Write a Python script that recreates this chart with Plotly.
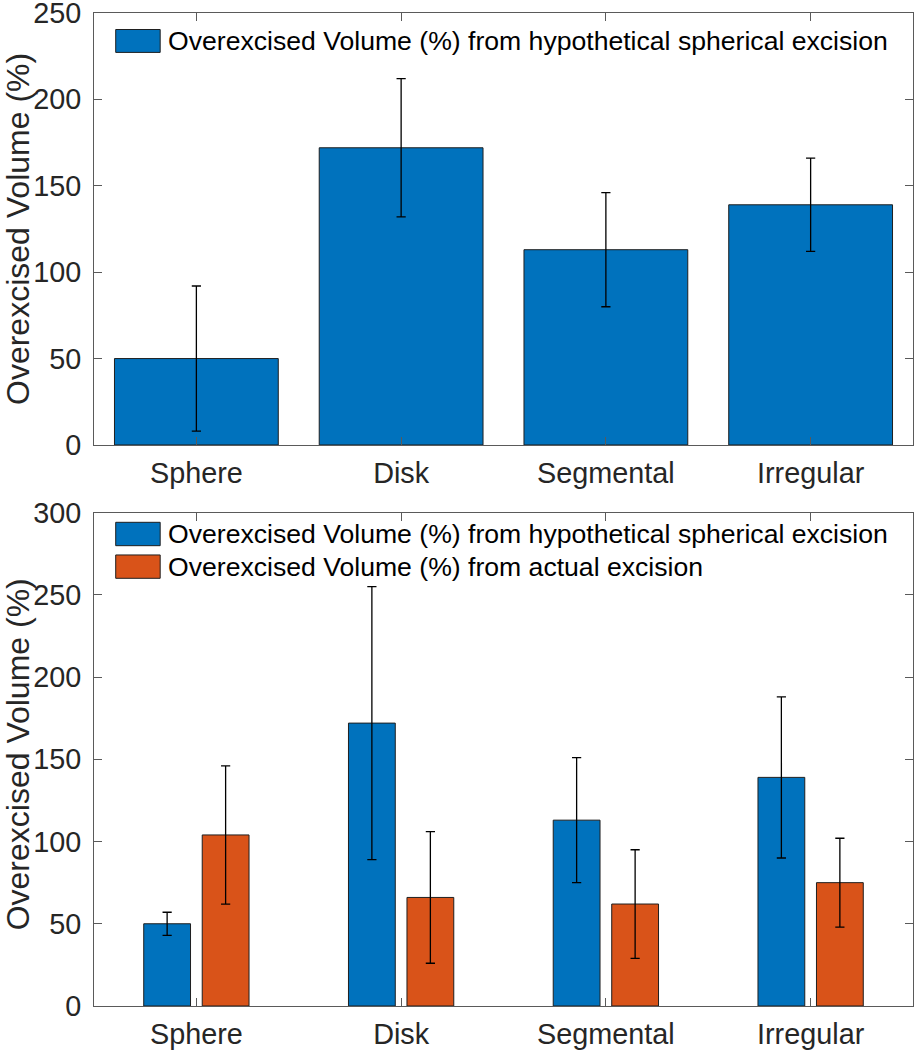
import plotly.graph_objects as go

categories = ["Sphere", "Disk", "Segmental", "Irregular"]

# Top panel: hypothetical spherical excision
top_values = [50, 172, 113, 139]
top_errors = [42, 40, 33, 27]

# Bottom panel
hyp_values = [50, 172, 113, 139]
hyp_errors = [7, 83, 38, 49]
act_values = [104, 66, 62, 75]
act_errors = [42, 40, 33, 27]

name_hyp = "Overexcised Volume (%) from hypothetical spherical excision"
name_act = "Overexcised Volume (%) from actual excision"
y_title = "Overexcised Volume (%)"

BLUE = "#0072BD"
ORANGE = "#D95319"
EDGE = "#1f1f1f"
AXC = "#262626"
FONT = "Liberation Sans, Arial, Helvetica, sans-serif"

fig = go.Figure()

err_style = dict(type="data", color="#000000", thickness=1.3, width=4.6, visible=True)

fig.add_trace(go.Bar(
    x=categories, y=top_values, name=name_hyp, width=0.8,
    marker=dict(color=BLUE, line=dict(color=EDGE, width=1)),
    error_y=dict(array=top_errors, **err_style),
    xaxis="x", yaxis="y", showlegend=False,
))
fig.add_trace(go.Bar(
    x=categories, y=hyp_values, name=name_hyp,
    marker=dict(color=BLUE, line=dict(color=EDGE, width=1)),
    error_y=dict(array=hyp_errors, **err_style),
    xaxis="x2", yaxis="y2", showlegend=False,
))
fig.add_trace(go.Bar(
    x=categories, y=act_values, name=name_act,
    marker=dict(color=ORANGE, line=dict(color=EDGE, width=1)),
    error_y=dict(array=act_errors, **err_style),
    xaxis="x2", yaxis="y2", showlegend=False,
))

axis_common = dict(
    showline=True, linecolor="#5a5a5a", linewidth=1, mirror="ticks",
    ticks="inside", ticklen=8, tickwidth=1, tickcolor="#5a5a5a",
    showgrid=False, zeroline=False, automargin=False, ticklabeloverflow="allow",
    tickfont=dict(family=FONT, size=28.8, color=AXC),
)
xaxis_common = dict(axis_common, ticklabelstandoff=2)
yaxis_common = dict(axis_common, ticklabelstandoff=6)

fig.update_layout(
    width=915, height=1050,
    margin=dict(l=94, r=2, t=13, b=44),
    paper_bgcolor="white", plot_bgcolor="white",
    barmode="group", bargap=0.4286, bargroupgap=0.2,
    font=dict(family=FONT, color=AXC),
    xaxis=dict(domain=[0, 1], anchor="y", range=[-0.5, 3.5], type="category", **xaxis_common),
    yaxis=dict(domain=[0.5650, 1], anchor="x", range=[0, 250], tickvals=[0, 50, 100, 150, 200, 250],
               **yaxis_common),
    xaxis2=dict(domain=[0, 1], anchor="y2", range=[-0.5, 3.5], type="category", **xaxis_common),
    yaxis2=dict(domain=[0, 0.4969], anchor="x2", range=[0, 300], tickvals=[0, 50, 100, 150, 200, 250, 300],
                **yaxis_common),
    showlegend=False,
)

# Y-axis titles (placed as rotated text, MATLAB-like position)
for yd, yc in (("y", 0.5), ("y2", 0.51)):
    fig.add_annotation(xref="paper", yref=f"{yd} domain", x=-0.0928, y=yc,
                       text=y_title, textangle=-90, showarrow=False,
                       xanchor="center", yanchor="middle",
                       font=dict(family=FONT, size=32, color=AXC))

# Manual legends (MATLAB-style large swatches)
def legend_entry(xd, yd, y0, y1, ytext, color, text):
    fig.add_shape(type="rect", xref=f"{xd} domain", yref=f"{yd} domain",
                  x0=0.0265, x1=0.0808, y0=y0, y1=y1,
                  fillcolor=color, line=dict(color=EDGE, width=1))
    fig.add_annotation(xref=f"{xd} domain", yref=f"{yd} domain", x=0.0875, y=ytext,
                       text=text, showarrow=False, xanchor="left", yanchor="middle",
                       font=dict(family=FONT, size=26.6, color="#000000"))

legend_entry("x", "y", 0.9088, 0.9618, 0.9353, BLUE, name_hyp)
legend_entry("x2", "y2", 0.9329, 0.9803, 0.9566, BLUE, name_hyp)
legend_entry("x2", "y2", 0.8668, 0.9141, 0.8904, ORANGE, name_act)

fig.write_html("out.html", config={"displayModeBar": False},
               post_script="document.body.style.margin='0';")
